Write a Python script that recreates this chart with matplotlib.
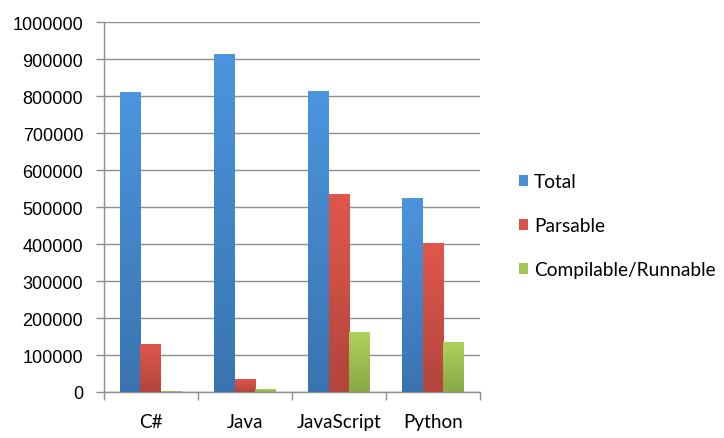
import numpy as np
import matplotlib
matplotlib.use("Agg")
import matplotlib.pyplot as plt
from matplotlib.colors import LinearSegmentedColormap

categories = ["C#", "Java", "JavaScript", "Python"]
series_names = ["Total", "Parsable", "Compilable/Runnable"]
total = [811000, 915000, 814000, 525000]
parsable = [130000, 35000, 536000, 402000]
compilable = [2000, 8000, 162000, 134000]

# (top, bottom) colours of each series gradient
grad = [("#4b95de", "#3a74b0"), ("#e0574c", "#b2453c"), ("#acd25a", "#8aa845")]
flat = ["#4a8fd6", "#d9534a", "#a4c853"]

fig = plt.figure(figsize=(7.24, 4.39), dpi=100)
ax = fig.add_axes([0.1436, 0.1048, 0.663 - 0.1436, 0.947 - 0.1048])

x = np.arange(len(categories))
w = 0.223
gray = "#8e8e8e"

for i, vals in enumerate([total, parsable, compilable]):
    xs = x + (i - 1) * w
    bars = ax.bar(xs, vals, w, color=flat[i], label=series_names[i], zorder=3)
    cmap = LinearSegmentedColormap.from_list("g%d" % i, [grad[i][1], grad[i][0]])
    for b in bars:
        h = b.get_height()
        if h <= 0:
            continue
        im = ax.imshow(np.linspace(0, 1, 64).reshape(-1, 1), cmap=cmap, aspect="auto",
                       origin="lower", extent=(b.get_x(), b.get_x() + b.get_width(), 0, h),
                       zorder=3.5)
        im.set_clip_path(b)

ax.set_xlim(-0.5, 3.5)
ax.set_ylim(0, 1000000)
ax.set_yticks(np.arange(0, 1000001, 100000))
ax.set_yticklabels([str(v) for v in range(0, 1000001, 100000)],
                   fontfamily="Liberation Sans", fontsize=13)
ax.set_xticks(x)
ax.set_xticklabels(categories, fontfamily="Lato", fontsize=13.6)
ax.set_xticks(np.arange(-0.5, 4, 1), minor=True)
ax.tick_params(axis="x", which="major", length=0, pad=15)
ax.tick_params(axis="x", which="minor", length=6, color=gray, width=1)
ax.tick_params(axis="y", length=6, color=gray, width=1, pad=9)
ax.yaxis.grid(True, color=gray, linewidth=1, zorder=0)
ax.set_axisbelow(True)
for s in ["top", "right"]:
    ax.spines[s].set_visible(False)
for s in ["left", "bottom"]:
    ax.spines[s].set_color(gray)
    ax.spines[s].set_linewidth(1)

leg = ax.legend(loc="center left", bbox_to_anchor=(1.083, 0.45), frameon=False,
                prop={"family": "Lato", "size": 13.8}, handlelength=0.5, handleheight=0.5,
                handletextpad=0.3, labelspacing=1.4, borderaxespad=0)

fig.savefig("out.png", dpi=100)
